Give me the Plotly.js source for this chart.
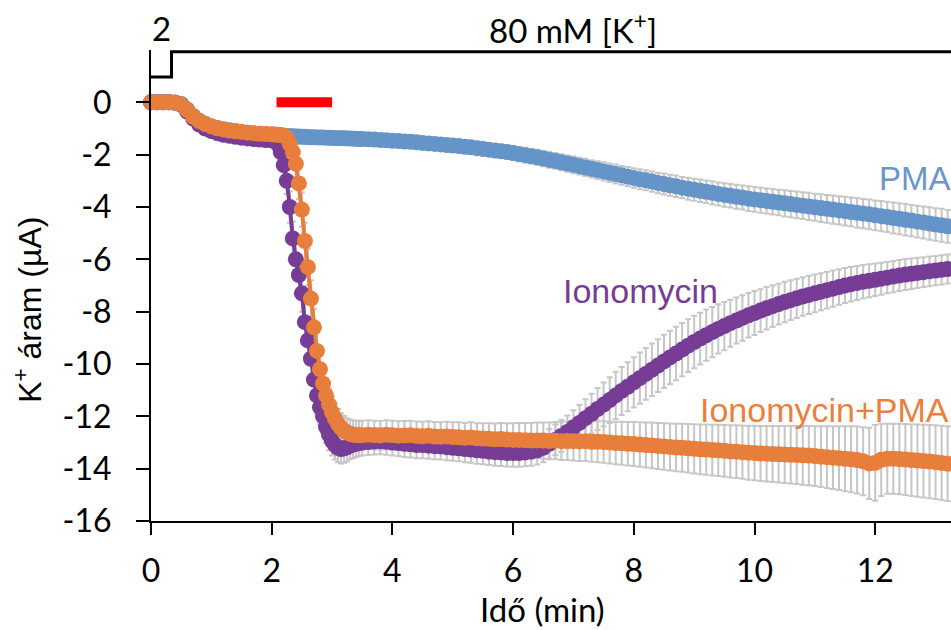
<!DOCTYPE html>
<html>
<head>
<meta charset="utf-8">
<script src="https://cdn.plot.ly/plotly-3.0.1.min.js"></script>
<style>html,body{margin:0;padding:0;background:#fff;}#chart{width:951px;height:630px;}</style>
</head>
<body>
<div id="chart"></div>
<script>
// Time (min)
const time = [
0,0.1,0.2,0.3,0.4,0.5,0.6,0.7,0.8,0.9,1.0,1.1,1.2,1.3,1.4,1.5,1.6,1.7,1.8,1.9,2.0,
2.05,2.1,2.15,2.2,2.25,2.3,2.35,2.4,2.45,2.5,2.55,2.6,2.65,2.7,2.75,2.8,2.85,2.9,2.95,3.0,3.05,3.1,3.15,3.2,3.25,3.3,3.35,3.4,3.45,3.5,
3.6,3.7,3.8,3.9,4.0,4.1,4.2,4.3,4.4,4.5,
4.6,4.7,4.8,4.9,5.0,5.1,5.2,5.3,5.4,5.5,
5.6,5.7,5.8,5.9,6.0,6.1,6.2,6.3,6.4,6.5,
6.6,6.7,6.8,6.9,7.0,7.1,7.2,7.3,7.4,7.5,
7.6,7.7,7.8,7.9,8.0,8.1,8.2,8.3,8.4,8.5,
8.6,8.7,8.8,8.9,9.0,9.1,9.2,9.3,9.4,9.5,
9.6,9.7,9.8,9.9,10.0,10.1,10.2,10.3,10.4,10.5,
10.6,10.7,10.8,10.9,11.0,11.1,11.2,11.3,11.4,11.5,
11.6,11.7,11.8,11.9,12.0,12.1,12.2,12.3,12.4,12.5,
12.6,12.7,12.8,12.9,13.0,13.1,13.2,13.3];

// PMA
const pma = [
0,0,0,0,-0.01,-0.06,-0.27,-0.52,-0.7,-0.82,-0.91,-0.98,-1.03,-1.07,-1.1,-1.13,-1.16,-1.18,-1.2,-1.22,-1.24,
-1.25,-1.26,-1.27,-1.28,-1.29,-1.3,-1.3,-1.31,-1.31,-1.32,-1.32,-1.33,-1.33,-1.33,-1.34,-1.34,-1.34,-1.35,-1.35,-1.36,-1.36,-1.37,-1.37,-1.37,-1.38,-1.38,-1.39,-1.39,-1.4,-1.4,
-1.41,-1.42,-1.44,-1.45,-1.47,-1.48,-1.5,-1.51,-1.53,-1.55,
-1.57,-1.59,-1.61,-1.63,-1.65,-1.67,-1.7,-1.72,-1.75,-1.78,
-1.81,-1.84,-1.87,-1.9,-1.94,-1.98,-2.02,-2.06,-2.1,-2.15,
-2.2,-2.24,-2.29,-2.34,-2.39,-2.44,-2.49,-2.54,-2.59,-2.64,
-2.69,-2.74,-2.79,-2.84,-2.89,-2.94,-2.98,-3.03,-3.08,-3.12,
-3.17,-3.21,-3.26,-3.3,-3.34,-3.38,-3.42,-3.46,-3.5,-3.54,
-3.57,-3.61,-3.64,-3.68,-3.71,-3.74,-3.77,-3.8,-3.83,-3.86,
-3.89,-3.92,-3.95,-3.98,-4.01,-4.04,-4.07,-4.1,-4.13,-4.16,
-4.19,-4.22,-4.25,-4.28,-4.32,-4.35,-4.38,-4.42,-4.45,-4.49,
-4.52,-4.56,-4.59,-4.63,-4.67,-4.7,-4.74,-4.78];
const pmaErr = [
0,0,0,0,0.02,0.05,0.08,0.1,0.1,0.1,0.1,0.1,0.11,0.11,0.12,0.12,0.12,0.13,0.13,0.13,0.14,
0.14,0.14,0.14,0.15,0.15,0.15,0.15,0.15,0.15,0.16,0.16,0.16,0.16,0.16,0.16,0.17,0.17,0.17,0.17,0.17,0.17,0.17,0.18,0.18,0.18,0.18,0.18,0.18,0.18,0.18,
0.19,0.19,0.19,0.2,0.2,0.2,0.2,0.21,0.21,0.21,
0.22,0.22,0.22,0.23,0.23,0.23,0.24,0.24,0.24,0.25,
0.25,0.25,0.26,0.26,0.27,0.27,0.28,0.28,0.29,0.29,
0.3,0.3,0.31,0.31,0.32,0.32,0.33,0.33,0.34,0.35,
0.35,0.36,0.36,0.37,0.37,0.38,0.38,0.39,0.39,0.4,
0.4,0.41,0.41,0.42,0.42,0.43,0.43,0.44,0.44,0.45,
0.45,0.46,0.46,0.47,0.47,0.48,0.48,0.49,0.49,0.5,
0.5,0.51,0.51,0.52,0.52,0.53,0.53,0.54,0.54,0.55,
0.55,0.56,0.56,0.57,0.57,0.58,0.58,0.59,0.59,0.6,
0.6,0.61,0.61,0.62,0.62,0.63,0.63,0.64];

// Ionomycin
const iono = [
0,0,0,0,-0.02,-0.1,-0.35,-0.62,-0.85,-1.0,-1.1,-1.18,-1.24,-1.28,-1.32,-1.35,-1.38,-1.4,-1.42,-1.44,-1.45,
-1.47,-1.6,-1.9,-2.4,-3.0,-4.0,-5.2,-6.0,-6.6,-7.3,-8.4,-9.1,-9.8,-10.6,-11.2,-11.65,-12.0,-12.4,-12.7,-12.95,-13.1,-13.2,-13.25,-13.22,-13.18,-13.12,-13.08,-13.05,-13.02,-13.0,
-12.98,-12.96,-12.95,-12.97,-13.0,-13.02,-13.05,-13.07,-13.1,-13.1,
-13.12,-13.14,-13.15,-13.18,-13.2,-13.22,-13.25,-13.27,-13.3,-13.32,
-13.35,-13.37,-13.38,-13.4,-13.4,-13.4,-13.38,-13.35,-13.3,-13.2,
-13.05,-12.9,-12.75,-12.6,-12.42,-12.25,-12.07,-11.9,-11.72,-11.55,
-11.38,-11.2,-11.03,-10.87,-10.7,-10.54,-10.38,-10.22,-10.06,-9.9,
-9.75,-9.6,-9.45,-9.3,-9.16,-9.03,-8.9,-8.78,-8.66,-8.55,
-8.44,-8.34,-8.24,-8.14,-8.05,-7.96,-7.87,-7.79,-7.71,-7.63,
-7.56,-7.49,-7.42,-7.36,-7.3,-7.24,-7.18,-7.12,-7.06,-7.0,
-6.95,-6.9,-6.86,-6.82,-6.78,-6.74,-6.7,-6.66,-6.62,-6.58,
-6.55,-6.52,-6.49,-6.46,-6.43,-6.4,-6.37,-6.34];
const ionoErr = [
0,0,0,0,0.02,0.05,0.1,0.12,0.12,0.12,0.12,0.12,0.13,0.13,0.13,0.13,0.14,0.14,0.14,0.14,0.15,
0.15,0.2,0.3,0.4,0.5,0.6,0.65,0.7,0.7,0.7,0.7,0.7,0.7,0.7,0.7,0.65,0.65,0.6,0.6,0.55,0.55,0.55,0.55,0.55,0.55,0.52,0.52,0.5,0.5,0.5,
0.5,0.5,0.5,0.5,0.5,0.5,0.5,0.5,0.5,0.5,
0.5,0.5,0.5,0.5,0.5,0.5,0.5,0.5,0.51,0.51,
0.51,0.52,0.52,0.52,0.53,0.53,0.53,0.54,0.54,0.55,
0.57,0.59,0.61,0.63,0.65,0.68,0.72,0.76,0.8,0.84,
0.87,0.9,0.92,0.94,0.96,0.98,0.99,1.0,1.01,1.02,
1.02,1.02,1.02,1.01,1.0,0.99,0.98,0.96,0.94,0.92,
0.9,0.88,0.87,0.85,0.84,0.82,0.81,0.8,0.78,0.77,
0.76,0.75,0.74,0.73,0.72,0.71,0.7,0.69,0.68,0.67,
0.66,0.65,0.64,0.63,0.62,0.61,0.6,0.6,0.59,0.59,
0.58,0.58,0.57,0.57,0.56,0.56,0.55,0.55];

// Ionomycin+PMA
const ionoPma = [
0,0,0,0,-0.02,-0.08,-0.3,-0.55,-0.72,-0.83,-0.92,-0.99,-1.04,-1.08,-1.11,-1.13,-1.16,-1.18,-1.2,-1.21,-1.22,
-1.23,-1.24,-1.25,-1.27,-1.35,-1.6,-1.9,-2.35,-3.1,-4.1,-5.3,-6.3,-7.5,-8.6,-9.5,-10.2,-10.75,-11.2,-11.55,-11.85,-12.1,-12.3,-12.45,-12.55,-12.62,-12.67,-12.7,-12.72,-12.72,-12.72,
-12.7,-12.72,-12.73,-12.7,-12.72,-12.74,-12.73,-12.72,-12.75,-12.76,
-12.74,-12.77,-12.78,-12.77,-12.79,-12.8,-12.82,-12.81,-12.84,-12.85,
-12.86,-12.88,-12.87,-12.89,-12.9,-12.9,-12.91,-12.92,-12.92,-12.93,
-12.94,-12.93,-12.95,-12.94,-12.95,-12.96,-12.95,-12.97,-12.97,-12.98,
-13.0,-13.02,-13.03,-13.05,-13.06,-13.08,-13.1,-13.11,-13.13,-13.15,
-13.17,-13.19,-13.2,-13.22,-13.24,-13.26,-13.27,-13.29,-13.3,-13.32,
-13.34,-13.35,-13.37,-13.39,-13.4,-13.42,-13.43,-13.44,-13.45,-13.46,
-13.47,-13.48,-13.49,-13.5,-13.52,-13.54,-13.56,-13.58,-13.6,-13.62,
-13.64,-13.67,-13.72,-13.8,-13.78,-13.66,-13.62,-13.62,-13.63,-13.65,
-13.67,-13.69,-13.71,-13.73,-13.75,-13.78,-13.81,-13.84];
const ionoPmaErr = [
0,0,0,0,0.02,0.05,0.08,0.1,0.1,0.1,0.11,0.11,0.11,0.12,0.12,0.12,0.12,0.13,0.13,0.13,0.13,
0.13,0.13,0.14,0.15,0.2,0.3,0.4,0.5,0.6,0.65,0.7,0.7,0.7,0.7,0.7,0.7,0.65,0.65,0.6,0.6,0.6,0.58,0.57,0.56,0.55,0.55,0.55,0.55,0.55,0.55,
0.55,0.55,0.55,0.55,0.55,0.55,0.55,0.55,0.55,0.55,
0.55,0.55,0.55,0.56,0.56,0.57,0.57,0.58,0.58,0.59,
0.6,0.61,0.62,0.63,0.64,0.65,0.66,0.67,0.68,0.69,
0.7,0.71,0.72,0.73,0.74,0.75,0.76,0.77,0.78,0.79,
0.8,0.81,0.82,0.83,0.84,0.85,0.86,0.87,0.88,0.89,
0.9,0.91,0.92,0.93,0.94,0.95,0.96,0.97,0.98,0.99,
1.0,1.01,1.02,1.03,1.04,1.05,1.06,1.07,1.08,1.09,
1.1,1.11,1.12,1.13,1.14,1.16,1.18,1.2,1.22,1.24,
1.26,1.28,1.3,1.36,1.45,1.38,1.34,1.34,1.35,1.36,
1.37,1.38,1.39,1.4,1.41,1.42,1.43,1.44];

const seriesNames = ['PMA', 'Ionomycin', 'Ionomycin+PMA'];
const yTickVals = [0, -2, -4, -6, -8, -10, -12, -14, -16];
const yTickText = ['0', '-2', '-4', '-6', '-8', '-10', '-12', '-14', '-16'];
const xTickVals = [0, 2, 4, 6, 8, 10, 12];
const xTickText = ['0', '2', '4', '6', '8', '10', '12'];

const colors = ['#6594C9', '#763C96', '#E87E3C'];
const errColor = '#C6C6C6';
const ys = [pma, iono, ionoPma];
const errs = [pmaErr, ionoErr, ionoPmaErr];

const traces = [];
// error bars first so that they sit below all markers
for (let i = 0; i < 3; i++) {
  traces.push({
    x: time, y: ys[i], type: 'scatter', mode: 'markers',
    marker: {size: 1, opacity: 0, color: colors[i]},
    error_y: {type: 'data', array: errs[i], visible: true, color: errColor, thickness: 2, width: 3},
    hoverinfo: 'skip', showlegend: false, cliponaxis: false
  });
}
for (let i = 0; i < 3; i++) {
  traces.push({
    x: time, y: ys[i], type: 'scatter', mode: 'lines+markers', name: seriesNames[i],
    line: {color: colors[i], width: 4},
    marker: {color: colors[i], size: 16, line: {width: 0}},
    showlegend: false, cliponaxis: false
  });
}

const calib = 'Lato, "Open Sans", sans-serif';
const arial = '"Liberation Sans", Arial, sans-serif';
const tickFont = {family: calib, size: 32, color: '#000'};

const layout = {
  width: 951, height: 630,
  margin: {l: 151, r: 0, t: 50, b: 109, pad: 0},
  paper_bgcolor: '#fff', plot_bgcolor: '#fff',
  showlegend: false,
  xaxis: {
    range: [0, 13.256], showgrid: false, zeroline: false,
    showline: true, linecolor: '#000', linewidth: 2,
    ticks: 'outside', ticklen: 12, tickwidth: 2, tickcolor: '#000',
    tickvals: xTickVals, ticktext: xTickText, tickfont: tickFont,
    ticklabelstandoff: 9
  },
  yaxis: {
    range: [-16, 2], showgrid: false, zeroline: false,
    showline: true, linecolor: '#000', linewidth: 2,
    ticks: 'outside', ticklen: 13, tickwidth: 2, tickcolor: '#000',
    tickvals: yTickVals, ticktext: yTickText, tickfont: tickFont,
    ticklabelstandoff: 18
  },
  shapes: [
    {type: 'path', xref: 'x', yref: 'y', path: 'M 0 0.97 L 0.34 0.97 L 0.34 1.93 L 13.4 1.93', line: {color: '#000', width: 3}},
    {type: 'rect', xref: 'x', yref: 'y', x0: 2.08, x1: 3.0, y0: -0.19, y1: 0.19, fillcolor: '#FF0000', line: {width: 0}}
  ],
  annotations: [
    {xref: 'x', yref: 'paper', x: 0.17, y: 1.046, text: '2', showarrow: false, font: {family: calib, size: 33, color: '#000'}, xanchor: 'center', yanchor: 'middle'},
    {xref: 'x', yref: 'paper', x: 7.0, y: 1.046, text: '80 mM [K<sup>+</sup>]', showarrow: false, font: {family: calib, size: 33, color: '#000'}, xanchor: 'center', yanchor: 'middle'},
    {xref: 'paper', yref: 'paper', x: 0.489, y: -0.187, text: 'Idő (min)', showarrow: false, font: {family: calib, size: 33, color: '#000'}, xanchor: 'center', yanchor: 'middle'},
    {xref: 'paper', yref: 'paper', x: -0.154, y: 0.448, text: 'K<sup>+</sup> áram (µA)', textangle: -90, showarrow: false, font: {family: arial, size: 32, color: '#000'}, xanchor: 'center', yanchor: 'middle'},
    {xref: 'x', yref: 'y', x: 12.03, y: -2.9, text: seriesNames[0], showarrow: false, font: {family: arial, size: 33, color: '#6A96CB'}, xanchor: 'left', yanchor: 'middle'},
    {xref: 'x', yref: 'y', x: 6.8, y: -7.22, text: seriesNames[1], showarrow: false, font: {family: arial, size: 34, color: '#763C96'}, xanchor: 'left', yanchor: 'middle'},
    {xref: 'x', yref: 'y', x: 9.06, y: -11.76, text: seriesNames[2], showarrow: false, font: {family: arial, size: 34, color: '#E8803E'}, xanchor: 'left', yanchor: 'middle'}
  ]
};

Plotly.newPlot('chart', traces, layout, {staticPlot: true, displayModeBar: false});
</script>
</body>
</html>
